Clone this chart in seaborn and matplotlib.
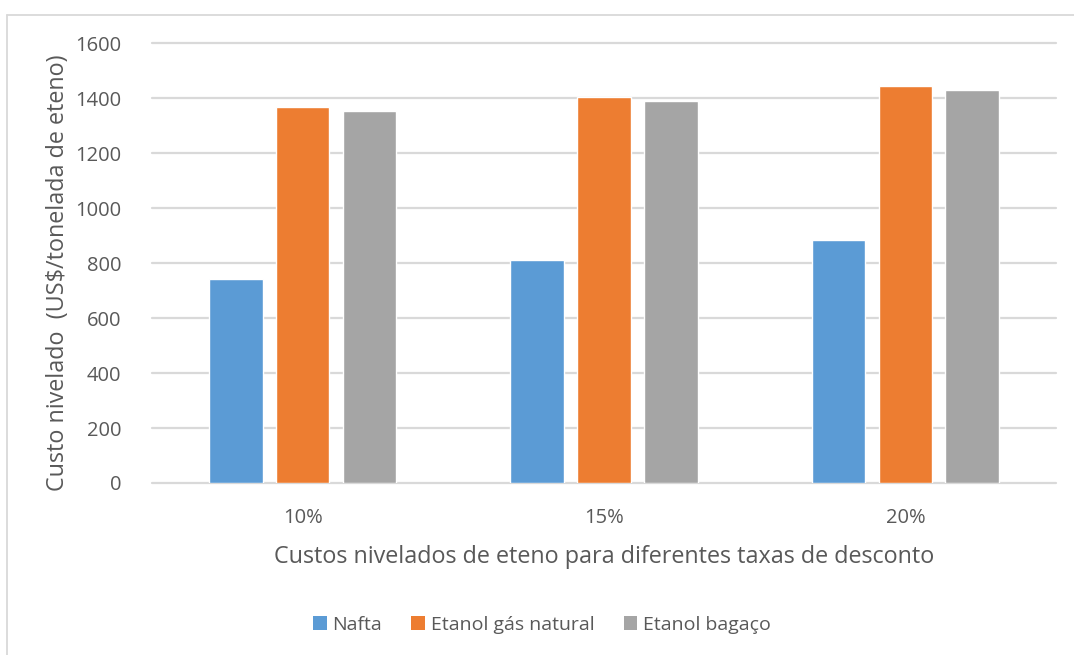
import matplotlib
matplotlib.use("Agg")
import matplotlib.pyplot as plt
from matplotlib.lines import Line2D
from matplotlib.patches import Patch
import seaborn as sns
import pandas as pd

# Levelized ethylene cost per discount rate and route
discount_rates = ["10%", "15%", "20%"]
routes = ["Nafta", "Etanol gás natural", "Etanol bagaço"]
nafta = [743, 812, 885]
etanol_gas_natural = [1368, 1406, 1446]
etanol_bagaco = [1353, 1391, 1431]
y_ticks = [0, 200, 400, 600, 800, 1000, 1200, 1400, 1600]

colors = ["#5B9BD5", "#ED7D31", "#A5A5A5"]
text_color = "#595959"
grid_color = "#D9D9D9"

df = pd.DataFrame({
    "taxa": discount_rates * 3,
    "rota": [routes[0]] * 3 + [routes[1]] * 3 + [routes[2]] * 3,
    "custo": nafta + etanol_gas_natural + etanol_bagaco,
})

sns.set_theme(style="white")
plt.rcParams["font.family"] = ["Open Sans", "DejaVu Sans"]

W, H = 1074, 655
fig = plt.figure(figsize=(W / 100, H / 100), dpi=100)
ax = fig.add_axes([152 / W, 1 - 483 / H, (1056 - 152) / W, (483 - 43.5) / H])

sns.barplot(data=df, x="taxa", y="custo", hue="rota", order=discount_rates,
            hue_order=routes, palette=colors, width=0.665, gap=0.2,
            saturation=1, errorbar=None, legend=False, ax=ax)

ax.set_ylim(0, 1600)
ax.set_xlim(-0.5, 2.5)
ax.set_yticks(y_ticks)
ax.yaxis.grid(True, color=grid_color, linewidth=1.6)
for gl in ax.yaxis.get_gridlines():
    gl.set_clip_on(False)
ax.set_axisbelow(True)
for s in ax.spines.values():
    s.set_visible(False)
ax.tick_params(axis="both", length=0, labelsize=14.5, colors=text_color)
ax.tick_params(axis="y", pad=22)
ax.tick_params(axis="x", pad=18)

ax.set_ylabel("Custo nivelado  (US$/tonelada de eteno)", fontsize=16.8,
              color=text_color)
ax.yaxis.set_label_coords((70 - 152) / 904, (483 - 273) / 439.5)
ax.set_xlabel("Custos nivelados de eteno para diferentes taxas de desconto",
              fontsize=16.8, color=text_color, labelpad=12)

handles = [Patch(facecolor=c, edgecolor="none") for c in colors]
fig.legend(handles, routes, loc="center", bbox_to_anchor=(542 / W, 1 - 625 / H),
           ncol=3, frameon=False, fontsize=14, labelcolor=text_color,
           handlelength=0.7, handleheight=0.7, handletextpad=0.3,
           columnspacing=1.5)

# Chart frame: top and left edges
fig.add_artist(Line2D([7 / W, 1.0], [1 - 14.5 / H, 1 - 14.5 / H],
                      transform=fig.transFigure, color=grid_color, linewidth=1.3))
fig.add_artist(Line2D([7 / W, 7 / W], [0, 1 - 14.5 / H],
                      transform=fig.transFigure, color=grid_color, linewidth=1.3))

fig.savefig("out.png", dpi=100, facecolor="white")
